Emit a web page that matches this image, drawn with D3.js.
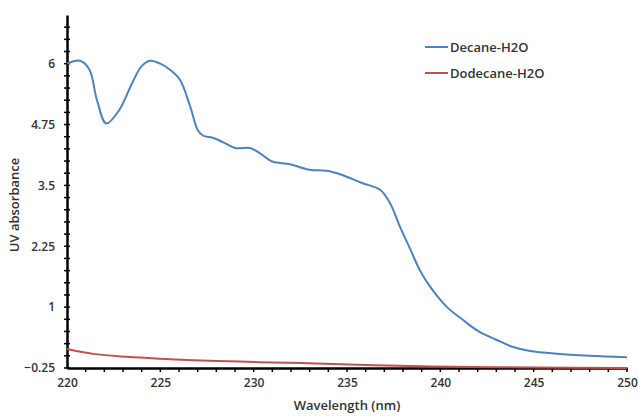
<!DOCTYPE html>
<html>
<head>
<meta charset="utf-8">
<script src="https://cdn.jsdelivr.net/npm/d3@7"></script>
<style>
  body { margin: 0; background: #fff; }
  svg text { font-family: "Open Sans", "Liberation Sans", sans-serif; fill: #333; }
</style>
</head>
<body>
<svg id="chart" width="638" height="416"></svg>
<script>
// Decane-H2O spectrum
const decaneWl = [220.0, 220.7, 221.2, 221.6, 222.1, 222.8, 223.5, 224.0, 224.45, 225.0,
    225.5, 226.05, 226.6, 227.0, 227.3, 227.8, 228.4, 229.0, 229.8, 230.3,
    231.0, 231.9, 233.0, 233.9, 234.7, 235.8, 236.77, 237.3, 237.84, 238.4,
    238.9, 239.45, 240.36, 241.2, 242.1, 243.0, 243.9, 244.8, 246.4, 248.0, 250.0];
const decaneAbs = [6.00, 6.06, 5.88, 5.26, 4.77, 5.05, 5.61, 5.95, 6.06, 6.00,
    5.88, 5.67, 5.12, 4.64, 4.52, 4.48, 4.38, 4.27, 4.27, 4.17,
    3.99, 3.94, 3.82, 3.80, 3.72, 3.55, 3.41, 3.14, 2.65, 2.18,
    1.76, 1.42, 1.00, 0.74, 0.49, 0.33, 0.18, 0.10, 0.04, 0.00, -0.03];

// Dodecane-H2O spectrum
const dodecaneWl = [220.0, 221.4, 223.2, 225.0, 226.75, 228.6, 230.3, 232.9, 236.0, 239.6, 245.0, 250.0];
const dodecaneAbs = [0.14, 0.04, -0.02, -0.06, -0.09, -0.11, -0.13, -0.15, -0.19, -0.22, -0.24, -0.25];

const seriesNames = ["Decane-H2O", "Dodecane-H2O"];
const seriesColors = ["#4F81BD", "#C0504D"];
const yTicks = [-0.25, 1, 2.25, 3.5, 4.75, 6];
const xTicks = [220, 225, 230, 235, 240, 245, 250];

const chart = {
    margin: { top: 15, right: 11, bottom: 48, left: 67 },
    width: 638,
    height: 416,
};
chart.graphWidth = chart.width - chart.margin.left - chart.margin.right;
chart.graphHeight = chart.height - chart.margin.top - chart.margin.bottom;

const svg = d3.select("#chart");
const g = svg.append("g")
    .attr("transform", `translate(${chart.margin.left},${chart.margin.top})`);

const x = d3.scaleLinear().domain([220, 250]).range([0, chart.graphWidth]);
const y = d3.scaleLinear().domain([-0.25, 7.0]).range([chart.graphHeight, 0]);

// minor ticks
g.append("g")
    .attr("transform", `translate(0,${chart.graphHeight})`)
    .selectAll("line")
    .data(d3.range(221, 251, 1))
    .join("line")
    .attr("x1", d => x(d)).attr("x2", d => x(d))
    .attr("y1", 0).attr("y2", 4)
    .attr("stroke", "#000").attr("stroke-width", 1.5);

g.append("g")
    .selectAll("line")
    .data(d3.range(0, 29).map(i => -0.25 + i * 0.25))
    .join("line")
    .attr("x1", -3).attr("x2", 3)
    .attr("y1", d => y(d)).attr("y2", d => y(d))
    .attr("stroke", "#000").attr("stroke-width", 1.5);

// axes
const xAxis = g.append("g")
    .attr("transform", `translate(0,${chart.graphHeight})`)
    .call(d3.axisBottom(x).tickValues(xTicks).tickSize(0).tickPadding(10));
xAxis.select(".domain").attr("stroke", "#000").attr("stroke-width", 2.5);
xAxis.selectAll("text").attr("font-size", 12).attr("font-weight", 600).attr("fill", "#333");

const yAxis = g.append("g")
    .call(d3.axisLeft(y).tickValues(yTicks).tickSize(0).tickPadding(12)
        .tickFormat(d => d3.format("")(d)));
yAxis.select(".domain").attr("stroke", "#000").attr("stroke-width", 2.5);
yAxis.selectAll("text").attr("font-size", 12).attr("font-weight", 600).attr("fill", "#333");

// lines
const line = d3.line()
    .x(d => x(d[0]))
    .y(d => y(d[1]))
    .curve(d3.curveCatmullRom.alpha(0.5));

const series = [
    d3.zip(decaneWl, decaneAbs),
    d3.zip(dodecaneWl, dodecaneAbs),
];
series.forEach((s, i) => {
    g.append("path")
        .datum(s)
        .attr("fill", "none")
        .attr("stroke", seriesColors[i])
        .attr("stroke-width", 2)
        .attr("d", line);
});

// axis titles
svg.append("text")
    .attr("x", chart.margin.left + chart.graphWidth / 2)
    .attr("y", 410)
    .attr("text-anchor", "middle")
    .attr("font-size", 13).attr("font-weight", 600)
    .text("Wavelength (nm)");

svg.append("text")
    .attr("transform", "translate(19,205) rotate(-90)")
    .attr("text-anchor", "middle")
    .attr("font-size", 13).attr("font-weight", 600)
    .text("UV absorbance");

// legend
const legend = svg.append("g").attr("transform", "translate(425,47)");
seriesNames.forEach((name, i) => {
    const row = legend.append("g").attr("transform", `translate(0,${i * 26})`);
    row.append("line")
        .attr("x1", 0).attr("x2", 23)
        .attr("stroke", seriesColors[i]).attr("stroke-width", 2);
    row.append("text")
        .attr("x", 25).attr("dy", "0.35em")
        .attr("font-size", 13).attr("font-weight", 600)
        .text(name);
});
</script>
</body>
</html>
